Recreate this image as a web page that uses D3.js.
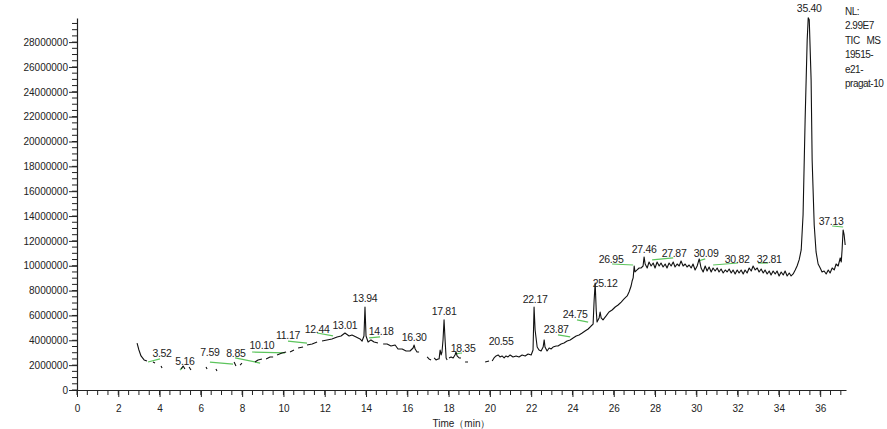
<!DOCTYPE html>
<html>
<head>
<meta charset="utf-8">
<script src="https://cdn.jsdelivr.net/npm/d3@7"></script>
<style>
  body { margin: 0; background: #fff; }
  svg { display: block; font-family: "Liberation Sans", Arial, sans-serif; }
</style>
</head>
<body>
<div id="chart"></div>
<script>
// retention time (min) and intensity (millions of counts); null = gap in trace
const traceTime = [
  2.91, 3.00, 3.10, 3.25, 3.39, 3.50, 3.68, 3.78, 3.90, 4.07, 4.12, 4.50,
  5.04, 5.14, 5.23, 5.30, 5.43, 5.52, 5.90, 6.25, 6.30, 6.50, 6.73, 6.78, 7.20,
  7.61, 7.70, 7.80, 7.90, 7.99, 8.30, 8.62, 8.77, 8.96, 9.05, 9.16, 9.35, 9.50, 9.60,
  9.69, 9.93, 10.13, 10.20, 10.32, 10.51, 10.60, 10.71, 10.95, 11.05, 11.14, 11.39, 11.63, 11.75,
  11.87, 12.11, 12.35, 12.60, 12.79, 12.98, 13.18, 13.32, 13.52, 13.71, 13.81,
  13.90, 13.95, 14.00, 14.10, 14.24, 14.39, 14.58, 14.70,
  14.83, 15.02, 15.21, 15.41, 15.55, 15.75, 15.94, 16.13, 16.28, 16.33, 16.38, 16.47, 16.57, 16.80,
  16.96, 17.05, 17.15, 17.22, 17.30, 17.39, 17.49, 17.54, 17.59, 17.64, 17.68, 17.73, 17.78, 17.83,
  17.88, 17.93, 17.97, 18.02, 18.12, 18.22, 18.31, 18.36, 18.41, 18.51, 18.60, 18.70,
  18.80, 18.94, 19.05, 19.14, 19.26, 19.38, 19.47, 19.57, 19.67, 19.77, 19.96, 20.03,
  20.11, 20.20, 20.30, 20.40, 20.49, 20.59, 20.69, 20.78, 20.88, 20.98, 21.12, 21.27, 21.41,
  21.56, 21.71, 21.85, 22.00, 22.09, 22.14, 22.19, 22.29, 22.38, 22.48, 22.58, 22.63, 22.67,
  22.77, 22.87, 22.97, 23.06, 23.21, 23.30, 23.45, 23.59, 23.74, 23.89, 24.03, 24.18, 24.32,
  24.47, 24.61, 24.76, 24.90, 25.00, 25.05, 25.10, 25.15, 25.19, 25.29, 25.34, 25.39, 25.48,
  25.63, 25.77, 25.92, 26.07, 26.21, 26.36, 26.50, 26.65, 26.74, 26.84, 26.89, 26.94, 26.99,
  27.03, 27.13, 27.23, 27.33, 27.42, 27.47, 27.52, 27.62, 27.71, 27.81, 27.91, 28.00, 28.10, 28.20,
  28.29, 28.39, 28.49, 28.58, 28.68, 28.78, 28.88, 28.97, 29.07, 29.17, 29.26, 29.36, 29.46,
  29.55, 29.65, 29.75, 29.84, 29.94, 30.04, 30.14, 30.23, 30.33, 30.43, 30.52, 30.62, 30.72,
  30.81, 30.91, 31.01, 31.10, 31.20, 31.30, 31.40, 31.49, 31.59, 31.69, 31.78, 31.88, 31.98,
  32.07, 32.17, 32.27, 32.36, 32.46, 32.56, 32.66, 32.75, 32.85, 32.95, 33.04, 33.14, 33.24,
  33.33, 33.43, 33.53, 33.62, 33.72, 33.82, 33.91, 34.01, 34.11, 34.21, 34.30, 34.40, 34.50,
  34.59, 34.69, 34.79, 34.88, 34.98, 35.08, 35.17, 35.27, 35.37, 35.42, 35.47, 35.56, 35.61,
  35.71, 35.80, 35.90, 36.00, 36.09, 36.19, 36.29, 36.39, 36.48, 36.58, 36.68, 36.77, 36.87,
  36.97, 37.02, 37.06, 37.11, 37.16, 37.21
];
const traceIntensity = [
  3.78, 3.22, 2.74, 2.42, 2.33, null, 2.25, 2.17, null, 1.93, 1.77, null,
  1.69, 1.93, 1.69, null, 1.85, 1.61, null, 1.85, 1.69, null, 1.69, 1.53, null,
  2.25, 1.93, null, 2.01, 2.17, null, 2.25, 2.42, 2.50, null, 2.50, 2.66, 2.66, null,
  2.82, 2.98, 3.06, null, 3.06, 3.22, null, 3.38, 3.46, null, 3.62, 3.70, 3.86, null,
  3.94, 4.03, 4.11, 4.27, 4.35, 4.59, 4.35, 4.43, 4.27, 4.11, 3.94,
  4.35, 6.68, 4.35, 3.86, 4.03, 3.86, 3.78, null,
  3.70, 3.70, 3.54, 3.62, 3.30, 3.30, 3.14, 3.14, 3.38, 3.62, 3.30, 3.06, 3.06, null,
  2.66, 2.50, 2.42, null, 2.58, 2.42, 2.50, 2.50, 3.22, 2.82, 3.06, 4.03, 5.64, 4.03,
  2.58, 2.42, null, 2.58, 2.66, 2.58, 2.82, 3.06, 2.74, 2.58, 2.58, null,
  2.25, 2.25, null, 2.17, null, 2.17, null, 2.17, null, 2.25, 2.33, null,
  2.33, 2.58, 2.74, 2.82, 2.66, 2.74, 2.58, 2.74, 2.66, 2.82, 2.66, 2.74, 2.66,
  2.82, 2.74, 2.90, 2.82, 3.22, 6.68, 4.83, 3.46, 3.22, 3.14, 3.46, 4.03, 3.46,
  3.14, 3.38, 3.30, 3.46, 3.54, 3.54, 3.70, 3.78, 3.94, 4.03, 4.19, 4.35, 4.43,
  4.59, 4.75, 4.91, 5.15, 5.31, 7.24, 8.61, 6.44, 5.47, 5.80, 6.28, 5.80, 5.64,
  5.96, 6.28, 6.44, 6.68, 6.84, 7.08, 7.33, 7.57, 7.89, 8.37, 8.77, 9.02, 9.98,
  9.50, 9.66, 9.82, 9.82, 9.98, 10.71, 10.14, 9.82, 10.30, 9.98, 10.22, 9.82, 10.30, 9.98,
  10.22, 9.90, 10.14, 9.82, 10.22, 9.98, 10.30, 9.90, 10.14, 9.98, 10.38, 9.98, 10.14,
  9.90, 10.06, 9.82, 10.14, 9.66, 9.98, 10.55, 9.82, 9.50, 9.98, 9.58, 9.90, 9.50,
  9.82, 9.58, 9.82, 9.50, 9.74, 9.42, 9.66, 9.50, 9.74, 9.42, 9.66, 9.34, 9.66,
  9.42, 9.66, 9.34, 9.66, 9.42, 9.82, 9.58, 9.98, 9.66, 9.82, 9.50, 9.74, 9.42,
  9.66, 9.34, 9.58, 9.26, 9.58, 9.34, 9.58, 9.18, 9.50, 9.26, 9.58, 9.18, 9.42,
  9.18, 9.34, 9.66, 9.98, 10.47, 11.27, 14.09, 21.74, 28.18, 29.95, 29.79, 24.96, 18.52,
  13.28, 11.11, 10.14, 9.82, 9.50, 9.58, 9.34, 9.66, 9.42, 9.82, 9.66, 10.14, 9.98,
  10.63, 10.30, 11.27, 12.88, 12.48, 11.67
];

// peak annotations: label text, label anchor (time, intensity in millions)
const peakLabels = ["3.52", "5.16", "7.59", "8.85", "10.10", "11.17", "12.44", "13.01", "13.94",
  "14.18", "16.30", "17.81", "18.35", "20.55", "22.17", "23.87", "24.75", "25.12", "26.95",
  "27.46", "27.87", "30.09", "30.82", "32.81", "35.40", "37.13"];
const labelTime = [4.12, 5.23, 6.44, 7.70, 8.96, 10.22, 11.63, 12.98, 13.95,
  14.73, 16.33, 17.78, 18.70, 20.54, 22.19, 23.21, 24.13, 25.58, 25.87,
  27.47, 28.92, 30.47, 31.98, 33.53, 35.47, 36.53];
const labelIntensity = [2.66, 2.01, 2.74, 2.66, 3.30, 4.11, 4.59, 4.91, 7.08,
  4.43, 3.94, 6.04, 3.06, 3.62, 7.00, 4.59, 5.80, 8.29, 10.22,
  11.03, 10.71, 10.71, 10.22, 10.22, 30.43, 13.28];

// integration baselines (green)
const baseStartTime = [3.44, 4.99, 6.44, 7.66, 8.48, 10.22, 11.63, 14.15, 18.31, 23.30, 24.22, 25.92, 27.86, 30.09, 30.81, 32.99, 36.58];
const baseStartInt  = [2.25, 1.61, 2.25, 2.58, 3.06, 3.94, 4.59, 4.19, 2.90, 4.43, 5.64, 10.14, 10.47, 10.38, 10.06, 10.22, 13.20];
const baseEndTime   = [4.02, 5.14, 7.56, 8.87, 10.08, 11.14, 12.40, 14.68, 18.65, 23.89, 24.76, 26.94, 28.88, 30.43, 32.02, 33.48, 37.11];
const baseEndInt    = [2.50, 1.85, 2.09, 2.17, 2.98, 3.78, 4.35, 4.27, 2.98, 4.27, 5.47, 10.06, 10.63, 10.55, 10.22, 10.22, 13.12];

const xMajorTicks = d3.range(0, 37, 2);
const xMinorTicks = d3.range(0, 37.1, 0.5);
const yMajorTicks = d3.range(0, 29, 2);
const yMinorTicks = d3.range(0, 29.6, 0.5);
const infoLines = ["NL:", "2.99E7", "TIC\u00a0\u00a0\u00a0MS", "19515-", "e21-", "pragat-10"];

const W = 887, H = 429;
const svg = d3.select('#chart').append('svg').attr('width', W).attr('height', H);

const x = d3.scaleLinear().domain([0, 37.25]).range([77, 846]);
const y = d3.scaleLinear().domain([0, 29.94]).range([390, 18]);

// minor ticks
svg.append('g').selectAll('line').data(yMinorTicks).join('line')
  .attr('x1', 72).attr('x2', 78).attr('y1', d => y(d)).attr('y2', d => y(d))
  .attr('stroke', '#222').attr('stroke-width', 1);
svg.append('g').selectAll('line').data(xMinorTicks).join('line')
  .attr('x1', d => x(d)).attr('x2', d => x(d)).attr('y1', 390).attr('y2', 395)
  .attr('stroke', '#222').attr('stroke-width', 1);

// y axis
const yAxis = svg.append('g')
  .attr('transform', 'translate(77,0)')
  .call(d3.axisLeft(y).tickValues(yMajorTicks).tickSize(8).tickSizeOuter(0).tickPadding(1)
    .tickFormat(d => String(Math.round(d * 1e6))));
// x axis
const xAxis = svg.append('g')
  .attr('transform', 'translate(0,390)')
  .call(d3.axisBottom(x).tickValues(xMajorTicks).tickSize(7).tickSizeOuter(0).tickPadding(8)
    .tickFormat(d3.format('d')));

[yAxis, xAxis].forEach(a => {
  a.select('.domain').attr('stroke', '#222').attr('stroke-width', 1.2);
  a.selectAll('.tick line').attr('stroke', '#222').attr('stroke-width', 1);
  a.selectAll('.tick text').attr('font-size', 10).attr('fill', '#222')
    .attr('font-family', '"Liberation Sans", Arial, sans-serif');
});

svg.append('text')
  .attr('x', (x(0) + x(37.25)) / 2).attr('y', 427)
  .attr('text-anchor', 'middle').attr('font-size', 10).attr('fill', '#222')
  .text('Time（min）');

// green baselines
svg.append('g').selectAll('line').data(baseStartTime).join('line')
  .attr('x1', (d, i) => x(d)).attr('y1', (d, i) => y(baseStartInt[i]))
  .attr('x2', (d, i) => x(baseEndTime[i])).attr('y2', (d, i) => y(baseEndInt[i]))
  .attr('stroke', '#5cc45c').attr('stroke-width', 1.2);

// trace
const pts = traceTime.map((t, i) => ({ t, v: traceIntensity[i] }));
const line = d3.line()
  .defined(d => d.v !== null)
  .x(d => x(d.t))
  .y(d => y(d.v));
svg.append('path')
  .datum(pts)
  .attr('d', line)
  .attr('fill', 'none')
  .attr('stroke', '#111')
  .attr('stroke-width', 1.1)
  .attr('stroke-linejoin', 'round');

// peak labels
svg.append('g').selectAll('text').data(peakLabels).join('text')
  .attr('x', (d, i) => x(labelTime[i]))
  .attr('y', (d, i) => y(labelIntensity[i]))
  .attr('text-anchor', 'middle')
  .attr('font-size', 10.5)
  .attr('letter-spacing', '-0.3px')
  .attr('fill', '#222')
  .text(d => d);

// info block top right
svg.append('g').selectAll('text').data(infoLines).join('text')
  .attr('x', 845)
  .attr('y', (d, i) => 15 + i * 14.4)
  .attr('font-size', 10)
  .attr('letter-spacing', '-0.5px')
  .attr('fill', '#222')
  .text(d => d);
</script>
</body>
</html>
